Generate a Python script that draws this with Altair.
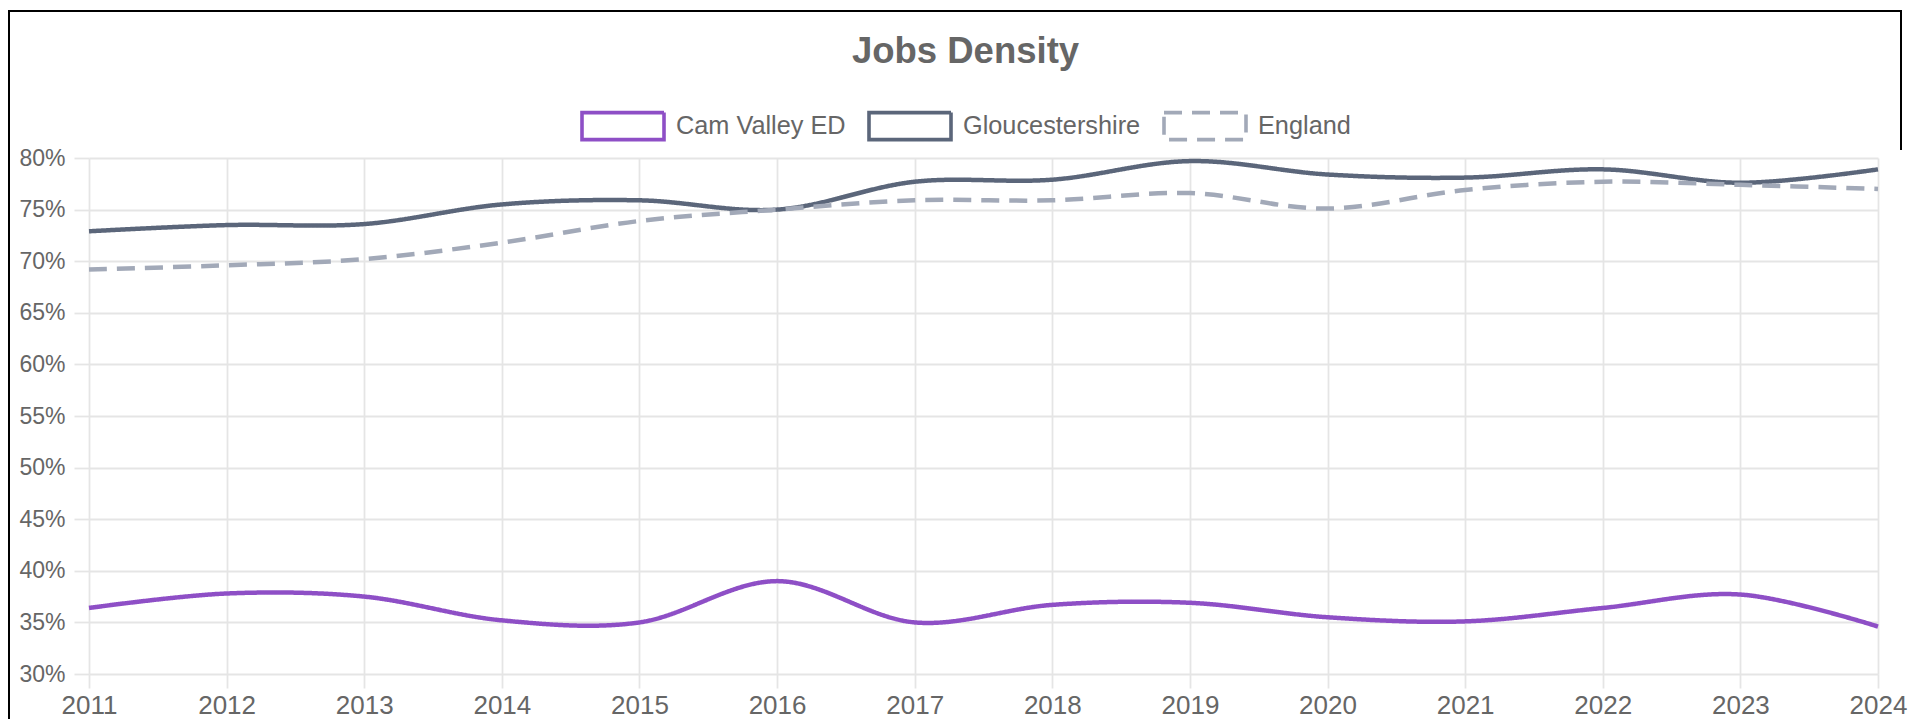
import altair as alt
import pandas as pd

years = [str(y) for y in range(2011, 2025)]
cam_valley = [36.4, 37.8, 37.5, 35.2, 35.0, 39.0, 35.0, 36.7, 36.9, 35.5, 35.1, 36.4, 37.7, 34.6]
gloucestershire = [72.9, 73.5, 73.6, 75.5, 75.9, 75.0, 77.7, 77.9, 79.7, 78.4, 78.1, 78.9, 77.6, 78.9]
england = [69.2, 69.6, 70.2, 71.8, 73.9, 75.0, 75.9, 75.9, 76.6, 75.1, 76.9, 77.7, 77.4, 77.0]

series_names = ["Cam Valley ED", "Gloucestershire", "England"]
series_colors = ["#8e4fc6", "#5b667a", "#a2a9b8"]
series_dash = [[1, 0], [1, 0], [18, 10]]
y_ticks = [0.30, 0.35, 0.40, 0.45, 0.50, 0.55, 0.60, 0.65, 0.70, 0.75, 0.80]

rows = []
for name, vals in zip(series_names, [cam_valley, gloucestershire, england]):
    for yr, v in zip(years, vals):
        rows.append({"Year": yr, "Area": name, "Value": v / 100.0})
df = pd.DataFrame(rows)

FONT = "Arial, Liberation Sans, Helvetica, sans-serif"
GRID = "#e5e5e5"
W, H = 1789, 516
PL, PT = 81, 150

legend = alt.Legend(
    title=None,
    orient="none",
    legendX=491,
    legendY=-75,
    direction="horizontal",
    symbolType="M-1,-0.33H1V0.33H-1Z",
    symbolSize=6724,
    symbolStrokeWidth=3.6,
    symbolFillColor="transparent",
    labelFontSize=25.3,
    labelColor="#666666",
    labelFont=FONT,
    labelOffset=10,
    columnPadding=15,
    labelLimit=400,
    padding=0,
)

lines = alt.Chart(df).mark_line(strokeWidth=4.5, interpolate="cardinal").encode(
    x=alt.X("Year:O", scale=alt.Scale(padding=0), sort=years,
            axis=alt.Axis(title=None, labelAngle=0, grid=True, gridColor=GRID, gridWidth=1.8,
                          tickSize=14, tickColor=GRID, tickWidth=1.8, domain=False,
                          labelFontSize=26, labelColor="#666666", labelFont=FONT, labelPadding=4)),
    y=alt.Y("Value:Q", scale=alt.Scale(domain=[0.30, 0.80], nice=False, zero=False),
            axis=alt.Axis(title=None, values=y_ticks, format=".0%", grid=True, gridColor=GRID,
                          gridWidth=1.8, tickSize=15, tickColor=GRID, tickWidth=1.8, domain=False,
                          labelFontSize=23, labelColor="#666666", labelFont=FONT, labelPadding=9)),
    color=alt.Color("Area:N", scale=alt.Scale(domain=series_names, range=series_colors), legend=legend),
    strokeDash=alt.StrokeDash("Area:N", scale=alt.Scale(domain=series_names, range=series_dash), legend=legend),
)

left_border = alt.Chart(df).mark_rule(color="black", strokeWidth=2).encode(
    x=alt.value(-80), y=alt.value(-148), y2=alt.value(H + 60))
top_border = alt.Chart(df).mark_rule(color="black", strokeWidth=2).encode(
    x=alt.value(-81), x2=alt.value(1813), y=alt.value(-147))
right_border = alt.Chart(df).mark_rule(color="black", strokeWidth=2).encode(
    x=alt.value(1812), y=alt.value(-148), y2=alt.value(-8))

chart = alt.layer(lines, left_border, top_border, right_border).properties(
    width=W, height=H,
    autosize=alt.AutoSizeParams(type="none"),
    padding={"left": PL, "top": PT, "right": 1916 - 16 - PL - W, "bottom": 727 - 8 - PT - H - 8},
    title=alt.Title("Jobs Density", fontSize=36.5, fontWeight="bold", color="#666666", font=FONT,
                    anchor="middle", dx=-18, dy=61, offset=0),
).configure_view(stroke=None)

chart.save("out.html", embed_options={"renderer": "svg", "actions": False})
